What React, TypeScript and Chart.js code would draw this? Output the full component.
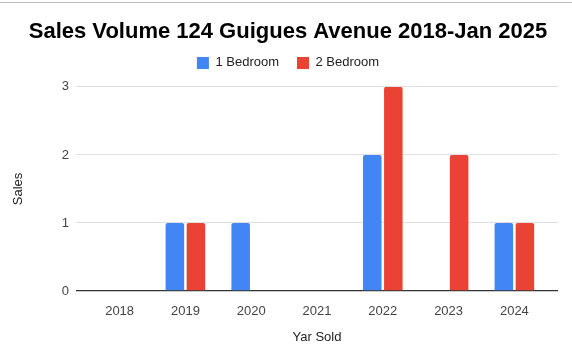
import React, { useEffect, useRef } from "react";
import { Chart, registerables } from "chart.js";

Chart.register(...registerables);

const years = ["2018", "2019", "2020", "2021", "2022", "2023", "2024"];
const oneBedroom = [0, 1, 1, 0, 2, 0, 1];
const twoBedroom = [0, 1, 0, 0, 3, 2, 1];
const yTicks = [0, 1, 2, 3];

const FONT = "'Liberation Sans', Arial, sans-serif";

const legendSpacer = {
  id: "legendSpacer",
  beforeInit(chart: any) {
    const legend = chart.legend;
    if (!legend) return;
    const orig = legend.fit;
    legend.fit = function () {
      orig.call(this);
      this.height += 7.5;
    };
  },
  afterLayout(chart: any) {
    for (const b of [chart.titleBlock, chart.legend]) {
      if (b) {
        b.left = 0;
        b.right = 576;
        b.width = 576;
      }
    }
  },
};

export default function App() {
  const ref = useRef<HTMLCanvasElement | null>(null);

  useEffect(() => {
    if (!ref.current) return;
    const chart = new Chart(ref.current, {
      type: "bar",
      data: {
        labels: years,
        datasets: [
          {
            label: "1 Bedroom",
            data: oneBedroom,
            backgroundColor: "#4285F4",
            borderRadius: 2,
            categoryPercentage: 0.64,
            barPercentage: 0.88,
          },
          {
            label: "2 Bedroom",
            data: twoBedroom,
            backgroundColor: "#EA4335",
            borderRadius: 2,
            categoryPercentage: 0.64,
            barPercentage: 0.88,
          },
        ],
      },
      options: {
        animation: false,
        responsive: false,
        layout: { padding: { left: 0, right: 14, top: 0, bottom: 0 } },
        plugins: {
          tooltip: { enabled: false },
          title: {
            display: true,
            text: "Sales Volume 124 Guigues Avenue 2018-Jan 2025",
            color: "#000",
            font: { family: FONT, size: 22, weight: "bold" },
            padding: { top: 19, bottom: -7 },
          },
          legend: {
            display: true,
            position: "top",
            labels: {
              color: "#222",
              font: { family: FONT, size: 13 },
              boxWidth: 12,
              boxHeight: 12,
              padding: 18,
            },
          },
        },
        scales: {
          x: {
            type: "linear",
            min: 2017.337,
            max: 2024.663,
            offset: false,
            grid: { display: false, offset: false },
            border: { display: false },
            ticks: {
              stepSize: 1,
              includeBounds: false,
              autoSkip: false,
              maxRotation: 0,
              padding: 4.5,
              color: "#444",
              font: { family: FONT, size: 13 },
              callback: (v: any) => {
                const i = years.indexOf(String(v));
                return i >= 0 ? years[i] : "";
              },
            },
            title: {
              display: true,
              text: "Yar Sold",
              color: "#222",
              font: { family: FONT, size: 13 },
              padding: { top: 0, bottom: 12.2 },
            },
            afterFit: (s: any) => {
              s.height = 66;
            },
          },
          y: {
            min: yTicks[0],
            max: yTicks[yTicks.length - 1],
            grid: {
              drawTicks: false,
              color: (c: any) => (c.tick && c.tick.value === 0 ? "#333" : "#e0e0e0"),
              lineWidth: (c: any) => (c.tick && c.tick.value === 0 ? 1.3 : 1),
            },
            border: { display: false },
            ticks: {
              stepSize: 1,
              padding: 7,
              color: "#444",
              font: { family: FONT, size: 13 },
            },
            title: {
              display: true,
              text: "Sales",
              color: "#222",
              font: { family: FONT, size: 13 },
              padding: { top: 10.2, bottom: 0 },
            },
            afterFit: (s: any) => {
              s.width = 76;
            },
          },
        },
      },
      plugins: [legendSpacer],
    } as any);
    return () => chart.destroy();
  }, []);

  return (
    <div style={{ position: "absolute", left: 0, top: 0, width: 572, height: 357, background: "#fff" }}>
      <canvas ref={ref} width={572} height={357} style={{ display: "block" }} />
      <div style={{ position: "absolute", left: 0, top: 2, width: 572, height: 1, background: "#bdbdbd", zIndex: 1 }} />
    </div>
  );
}
